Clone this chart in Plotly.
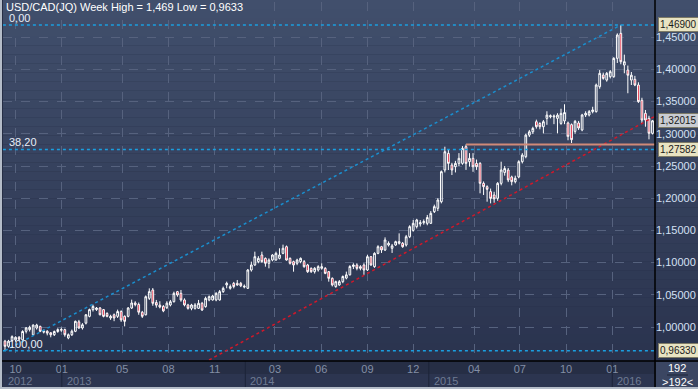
import plotly.graph_objects as go
import pandas as pd

# ---------------- data (weekly USD/CAD candles) ----------------
week_start = "2012-09-03"
n_weeks = 186
dates = pd.date_range(week_start, periods=n_weeks, freq="7D")

opens = [
    0.9785, 0.9780, 0.9700, 0.9790, 0.9800, 0.9840, 0.9800, 0.9933, 0.9960, 0.9880,
    0.9985, 1.0010, 0.9920, 0.9935, 0.9910, 0.9880, 0.9930, 0.9950, 0.9960, 0.9830,
    0.9880, 0.9933, 1.0080, 0.9985, 1.0060, 1.0165, 1.0270, 1.0270, 1.0295, 1.0270,
    1.0210, 1.0140, 1.0190, 1.0165, 1.0240, 1.0166, 1.0166, 1.0295, 1.0373, 1.0350,
    1.0230, 1.0190, 1.0445, 1.0575, 1.0380, 1.0340, 1.0320, 1.0300, 1.0342, 1.0393,
    1.0549, 1.0523, 1.0420, 1.0342, 1.0290, 1.0290, 1.0290, 1.0368, 1.0316, 1.0420,
    1.0420, 1.0420, 1.0420, 1.0549, 1.0653, 1.0601, 1.0678, 1.0678, 1.0678, 1.0620,
    1.0601, 1.0885, 1.0963, 1.1015, 1.1118, 1.1066, 1.0989, 1.1040, 1.1040, 1.1066,
    1.1144, 1.1247, 1.1066, 1.1015, 1.0989, 1.1015, 1.1015, 1.0963, 1.0911, 1.0859,
    1.0885, 1.0911, 1.0911, 1.0859, 1.0756, 1.0627, 1.0653, 1.0704, 1.0760, 1.0810,
    1.0940, 1.0963, 1.0937, 1.0963, 1.0885, 1.1092, 1.0937, 1.1144, 1.1247, 1.1196,
    1.1273, 1.1222, 1.1273, 1.1300, 1.1300, 1.1273, 1.1402, 1.1500, 1.1558, 1.1600,
    1.1620, 1.1610, 1.1610, 1.1791, 1.1843, 1.1946, 1.2438, 1.2696, 1.2515, 1.2489,
    1.2541, 1.2541, 1.2800, 1.2567, 1.2619, 1.2541, 1.2541, 1.2231, 1.2179, 1.2102,
    1.2050, 1.1998, 1.2231, 1.2400, 1.2438, 1.2330, 1.2257, 1.2330, 1.2567, 1.2645,
    1.2980, 1.3032, 1.3188, 1.3160, 1.3110, 1.3240, 1.3265, 1.3262, 1.3240, 1.3162,
    1.3200, 1.3168, 1.3142, 1.3038, 1.3168, 1.3060, 1.3292, 1.3292, 1.3344, 1.3344,
    1.3732, 1.3913, 1.3835, 1.3887, 1.3887, 1.4172, 1.4560, 1.4068, 1.3990, 1.3835,
    1.3846, 1.3758, 1.3520, 1.3318, 1.3240, 1.3008,
]
highs = [
    0.9860, 0.9800, 0.9800, 0.9870, 0.9855, 0.9860, 0.9950, 1.0000, 1.0020, 1.0040,
    1.0050, 1.0020, 0.9960, 0.9950, 0.9920, 0.9945, 0.9980, 0.9990, 0.9975, 0.9900,
    0.9960, 1.0100, 1.0110, 1.0060, 1.0200, 1.0285, 1.0347, 1.0310, 1.0310, 1.0280,
    1.0230, 1.0190, 1.0210, 1.0270, 1.0260, 1.0180, 1.0310, 1.0425, 1.0400, 1.0380,
    1.0250, 1.0490, 1.0600, 1.0605, 1.0420, 1.0400, 1.0340, 1.0400, 1.0420, 1.0549,
    1.0560, 1.0575, 1.0445, 1.0360, 1.0360, 1.0370, 1.0420, 1.0390, 1.0471, 1.0490,
    1.0500, 1.0540, 1.0575, 1.0627, 1.0704, 1.0660, 1.0700, 1.0730, 1.0700, 1.0660,
    1.0900, 1.1015, 1.1170, 1.1100, 1.1170, 1.1080, 1.1066, 1.1130, 1.1170, 1.1222,
    1.1279, 1.1265, 1.1080, 1.1030, 1.1060, 1.1080, 1.1040, 1.0980, 1.0925, 1.0930,
    1.0960, 1.0989, 1.0930, 1.0870, 1.0770, 1.0720, 1.0730, 1.0800, 1.0860, 1.0960,
    1.0990, 1.0990, 1.0960, 1.0990, 1.1120, 1.1100, 1.1160, 1.1270, 1.1260, 1.1392,
    1.1330, 1.1290, 1.1340, 1.1454, 1.1320, 1.1430, 1.1580, 1.1662, 1.1680, 1.1660,
    1.1670, 1.1740, 1.1800, 1.1900, 1.2000, 1.2430, 1.2800, 1.2750, 1.2550, 1.2580,
    1.2700, 1.2810, 1.2835, 1.2700, 1.2700, 1.2600, 1.2560, 1.2260, 1.2200, 1.2150,
    1.2100, 1.2250, 1.2567, 1.2500, 1.2470, 1.2350, 1.2350, 1.2590, 1.2700, 1.3000,
    1.3060, 1.3110, 1.3220, 1.3180, 1.3214, 1.3350, 1.3300, 1.3300, 1.3320, 1.3390,
    1.3459, 1.3190, 1.3160, 1.3215, 1.3200, 1.3310, 1.3350, 1.3370, 1.3420, 1.3780,
    1.3990, 1.3950, 1.3960, 1.3990, 1.4190, 1.4560, 1.4690, 1.4230, 1.4060, 1.3960,
    1.3900, 1.3800, 1.3560, 1.3370, 1.3280, 1.3215,
]
lows = [
    0.9775, 0.9633, 0.9680, 0.9770, 0.9770, 0.9780, 0.9780, 0.9900, 0.9930, 0.9870,
    0.9960, 0.9920, 0.9900, 0.9870, 0.9840, 0.9860, 0.9910, 0.9925, 0.9850, 0.9810,
    0.9860, 0.9920, 0.9970, 0.9960, 1.0040, 1.0150, 1.0240, 1.0250, 1.0180, 1.0150,
    1.0150, 1.0110, 1.0090, 1.0140, 1.0080, 1.0010, 1.0150, 1.0280, 1.0320, 1.0190,
    1.0140, 1.0180, 1.0420, 1.0330, 1.0300, 1.0290, 1.0230, 1.0280, 1.0320, 1.0380,
    1.0470, 1.0393, 1.0320, 1.0270, 1.0260, 1.0270, 1.0280, 1.0250, 1.0300, 1.0400,
    1.0410, 1.0400, 1.0410, 1.0530, 1.0601, 1.0580, 1.0600, 1.0640, 1.0620, 1.0600,
    1.0590, 1.0860, 1.0950, 1.0990, 1.1000, 1.0937, 1.0911, 1.1020, 1.1030, 1.1050,
    1.1130, 1.1030, 1.0970, 1.0859, 1.0960, 1.0990, 1.0920, 1.0840, 1.0840, 1.0830,
    1.0860, 1.0890, 1.0820, 1.0704, 1.0630, 1.0610, 1.0640, 1.0680, 1.0740, 1.0800,
    1.0900, 1.0880, 1.0880, 1.0810, 1.0870, 1.0950, 1.0920, 1.1130, 1.1150, 1.1180,
    1.1250, 1.1150, 1.1260, 1.1280, 1.1230, 1.1250, 1.1380, 1.1480, 1.1530, 1.1560,
    1.1590, 1.1580, 1.1600, 1.1770, 1.1800, 1.1920, 1.2400, 1.2438, 1.2360, 1.2400,
    1.2500, 1.2520, 1.2440, 1.2490, 1.2410, 1.2440, 1.2076, 1.2050, 1.1946, 1.1920,
    1.1930, 1.1960, 1.2200, 1.2350, 1.2250, 1.2200, 1.2230, 1.2310, 1.2540, 1.2620,
    1.2950, 1.3000, 1.3080, 1.3070, 1.3007, 1.3140, 1.3240, 1.3150, 1.3007, 1.3140,
    1.3150, 1.2900, 1.2857, 1.3000, 1.3060, 1.3040, 1.3260, 1.3270, 1.3318, 1.3330,
    1.3700, 1.3840, 1.3810, 1.3860, 1.3870, 1.4100, 1.4080, 1.3940, 1.3630, 1.3758,
    1.3740, 1.3480, 1.3163, 1.3110, 1.2914, 1.2990,
]
closes = [
    0.9850, 0.9700, 0.9780, 0.9850, 0.9840, 0.9810, 0.9930, 0.9985, 0.9995, 1.0030,
    1.0030, 0.9933, 0.9935, 0.9905, 0.9880, 0.9930, 0.9960, 0.9960, 0.9880, 0.9880,
    0.9935, 1.0088, 0.9985, 1.0035, 1.0190, 1.0270, 1.0320, 1.0295, 1.0190, 1.0165,
    1.0165, 1.0165, 1.0140, 1.0240, 1.0110, 1.0088, 1.0295, 1.0373, 1.0347, 1.0230,
    1.0166, 1.0470, 1.0549, 1.0368, 1.0340, 1.0310, 1.0250, 1.0370, 1.0393, 1.0523,
    1.0497, 1.0420, 1.0342, 1.0290, 1.0342, 1.0342, 1.0368, 1.0264, 1.0445, 1.0471,
    1.0481, 1.0523, 1.0549, 1.0601, 1.0678, 1.0627, 1.0627, 1.0653, 1.0640, 1.0632,
    1.0885, 1.0963, 1.1092, 1.1066, 1.1015, 1.0989, 1.1040, 1.1118, 1.1144, 1.1118,
    1.1222, 1.1040, 1.0989, 1.0963, 1.1040, 1.1066, 1.0937, 1.0859, 1.0859, 1.0911,
    1.0937, 1.0937, 1.0833, 1.0756, 1.0653, 1.0704, 1.0704, 1.0784, 1.0810, 1.0940,
    1.0963, 1.0911, 1.0911, 1.0885, 1.1092, 1.0963, 1.1144, 1.1247, 1.1196, 1.1351,
    1.1300, 1.1260, 1.1325, 1.1325, 1.1247, 1.1402, 1.1558, 1.1610, 1.1662, 1.1620,
    1.1636, 1.1700, 1.1765, 1.1869, 1.1972, 1.2412, 1.2722, 1.2541, 1.2438, 1.2541,
    1.2619, 1.2774, 1.2541, 1.2619, 1.2489, 1.2489, 1.2231, 1.2179, 1.2138, 1.1998,
    1.1990, 1.2231, 1.2438, 1.2460, 1.2283, 1.2257, 1.2310, 1.2567, 1.2670, 1.2980,
    1.3032, 1.3084, 1.3110, 1.3110, 1.3188, 1.3290, 1.3280, 1.3275, 1.3290, 1.3317,
    1.3330, 1.2961, 1.2909, 1.3193, 1.3090, 1.3292, 1.3318, 1.3344, 1.3370, 1.3758,
    1.3939, 1.3861, 1.3939, 1.3965, 1.4172, 1.4534, 1.4120, 1.4120, 1.3910, 1.3910,
    1.3758, 1.3500, 1.3214, 1.3214, 1.3008, 1.3202,
]
assert len(opens) == len(highs) == len(lows) == len(closes) == n_weeks

# Fibonacci retracement between the period low and high
fib_high = 1.469
fib_low = 0.9633
fib_levels = [0.0, 38.2, 100.0]
fib_labels = ["0,00", "38,20", "100,00"]
fib_low_idx = 1      # week of the low
fib_high_idx = 176   # week of the high

# red trend line (two anchor points) and horizontal resistance line
trend_dates = ["2013-09-30", "2016-04-04"]
trend_prices = [0.9398, 1.3311]
resist_idx = 132
resist_price = 1.2835
resist_end = "2016-04-04"

# axis ticks
y_ticks = [1.00, 1.05, 1.10, 1.15, 1.20, 1.25, 1.30, 1.35, 1.40, 1.45]
month_tick_dates = ["2012-10-01", "2013-01-01", "2013-05-01", "2013-08-01", "2013-11-01",
                    "2014-03-01", "2014-06-01", "2014-09-01", "2014-12-01", "2015-04-01",
                    "2015-07-01", "2015-10-01", "2016-01-01"]
month_tick_text = ["10", "01", "05", "08", "11", "03", "06", "09", "12", "04", "07", "10", "01"]
year_starts = ["2012-09-06", "2013-01-01", "2014-01-01", "2015-01-01", "2016-01-01"]
year_labels = ["2012", "2013", "2014", "2015", "2016"]

last_price = 1.32015
title_text = "USD/CAD(JQ) Week High = 1,469 Low = 0,9633"
bar_count_text = "192"

# ---------------- layout geometry ----------------
W, H = 698, 389
ML, MR, MT, MB = 3, 43, 2, 28
PW, PH = W - ML - MR, H - MT - MB
def px(x):  # pixel x -> paper x
    return (x - ML) / PW
def py(y):  # pixel y -> paper y
    return (H - MB - y) / PH

FONT = "Liberation Sans"
fig = go.Figure()

def fmt(v):
    return f"{v:.5f}".replace(".", ",")

# fib horizontal lines
x_lo, x_hi = "2012-08-01", "2016-05-01"
for lvl in fib_levels:
    p = fib_high - lvl / 100.0 * (fib_high - fib_low)
    fig.add_trace(go.Scatter(x=[x_lo, x_hi], y=[p, p], mode="lines",
                             line=dict(color="#1a9fe0", width=1.5, dash="dot"),
                             hoverinfo="skip", showlegend=False))
# fib diagonal
fig.add_trace(go.Scatter(x=[dates[fib_low_idx], dates[fib_high_idx]], y=[fib_low, fib_high],
                         mode="lines", line=dict(color="#1a8fcf", width=1.5, dash="dot"),
                         hoverinfo="skip", showlegend=False))
# red trend line
fig.add_trace(go.Scatter(x=trend_dates, y=trend_prices, mode="lines",
                         line=dict(color="#d0182a", width=1.5, dash="dot"),
                         hoverinfo="skip", showlegend=False))
# resistance line
fig.add_trace(go.Scatter(x=[dates[resist_idx], resist_end], y=[resist_price, resist_price],
                         mode="lines", line=dict(color="#d08a78", width=2),
                         hoverinfo="skip", showlegend=False))

fig.add_trace(go.Candlestick(
    x=dates, open=opens, high=highs, low=lows, close=closes,
    increasing=dict(line=dict(color="#ffffff", width=1), fillcolor="rgba(0,0,0,0)"),
    decreasing=dict(line=dict(color="#ffffff", width=1), fillcolor="#e0102c"),
    whiskerwidth=0, showlegend=False, hoverinfo="skip"))

shapes = []
# gradient background (plot + right axis area)
top_rgb = (0x41, 0x4f, 0x6c)
bot_rgb = (0x2a, 0x33, 0x4e)
nb = 40
for k in range(nb):
    y0 = (H - MB) * k / nb
    y1 = (H - MB) * (k + 1) / nb
    t = (k + 0.5) / nb
    c = tuple(int(round(top_rgb[j] + (bot_rgb[j] - top_rgb[j]) * t)) for j in range(3))
    shapes.append(dict(type="rect", xref="paper", yref="paper", x0=px(ML), x1=px(W),
                       y0=py(y1), y1=py(y0), fillcolor="rgb(%d,%d,%d)" % c,
                       line=dict(width=0), layer="below"))
# year band row
shapes.append(dict(type="rect", xref="paper", yref="paper", x0=px(ML), x1=px(W - MR),
                   y0=py(387), y1=py(374), fillcolor="#2c3550", line=dict(width=0), layer="below"))
for d in year_starts[1:]:
    shapes.append(dict(type="line", xref="x", yref="paper", x0=d, x1=d, y0=py(387), y1=py(361),
                       line=dict(color="#1c2338", width=1)))
# axis separators
shapes.append(dict(type="line", xref="paper", yref="paper", x0=px(0), x1=px(W), y0=0, y1=0,
                   line=dict(color="#000000", width=1.5)))
shapes.append(dict(type="line", xref="paper", yref="paper", x0=1, x1=1, y0=py(H), y1=py(0),
                   line=dict(color="#000000", width=1.5)))
# bottom right box
shapes.append(dict(type="rect", xref="paper", yref="paper", x0=px(656), x1=px(W),
                   y0=py(387), y1=py(362), fillcolor="#3b4662", line=dict(width=0)))
shapes.append(dict(type="line", xref="paper", yref="paper", x0=px(667), x1=px(688),
                   y0=py(375), y1=py(375), line=dict(color="#1e2538", width=1)))
# outer frame (left and bottom)
shapes.append(dict(type="rect", xref="paper", yref="paper", x0=px(0), x1=px(2),
                   y0=py(H), y1=py(0), fillcolor="#b4bcc8", line=dict(width=0)))
shapes.append(dict(type="rect", xref="paper", yref="paper", x0=px(0), x1=px(W),
                   y0=py(H), y1=py(387), fillcolor="#b4bcc8", line=dict(width=0)))

annotations = []
annotations.append(dict(text=title_text, xref="paper", yref="paper", x=px(4), y=py(7),
                        xanchor="left", yanchor="middle", showarrow=False,
                        font=dict(family=FONT, size=11, color="#ffffff")))
for lvl, lab in zip(fib_levels, fib_labels):
    p = fib_high - lvl / 100.0 * (fib_high - fib_low)
    annotations.append(dict(text=lab, xref="paper", yref="y", x=px(7), y=p,
                            xanchor="left", yanchor="bottom", yshift=-1, showarrow=False,
                            font=dict(family=FONT, size=11, color="#e8eef8")))
# price tags
tags = [(fib_high, "#e8e3c2"), (last_price, "#c9ccd2"),
        (fib_high - 0.382 * (fib_high - fib_low), "#e8e3c2"), (fib_low, "#e8e3c2")]
for p, col in tags:
    annotations.append(dict(text=fmt(p), xref="paper", yref="y", x=1, y=p,
                            xanchor="left", yanchor="middle", xshift=3, showarrow=False,
                            bgcolor=col, bordercolor="#7d7a66", borderwidth=1, borderpad=1,
                            font=dict(family=FONT, size=10, color="#1a1a1a")))
for d, lab in zip(year_starts, year_labels):
    annotations.append(dict(text=lab, xref="x", yref="paper", x=d, y=py(381),
                            xanchor="left", yanchor="middle", xshift=3, showarrow=False,
                            font=dict(family=FONT, size=11, color="#6f7b93")))
annotations.append(dict(text=bar_count_text, xref="paper", yref="paper", x=px(677), y=py(368),
                        xanchor="center", yanchor="middle", showarrow=False,
                        font=dict(family=FONT, size=11, color="#ffffff")))
annotations.append(dict(text=">" + bar_count_text + "<", xref="paper", yref="paper", x=px(677),
                        y=py(382), xanchor="center", yanchor="middle", showarrow=False,
                        font=dict(family=FONT, size=11, color="#ffffff")))

fig.update_layout(
    width=W, height=H, margin=dict(l=ML, r=MR, t=MT, b=MB, pad=0),
    paper_bgcolor="#262e45", plot_bgcolor="rgba(0,0,0,0)",
    separators=",.", showlegend=False, hovermode=False,
    shapes=shapes, annotations=annotations,
    xaxis=dict(type="date", range=["2012-09-06", "2016-03-26"], rangeslider=dict(visible=False),
               tickvals=month_tick_dates, ticktext=month_tick_text, ticks="",
               showgrid=True, gridcolor="#56627e", griddash="dash", gridwidth=1,
               zeroline=False, showline=False,
               tickfont=dict(family=FONT, size=11, color="#838ea6"), fixedrange=True),
    yaxis=dict(range=[0.9472, 1.5047], side="right", tickvals=y_ticks, tickformat=".5f",
               ticks="", showgrid=True, gridcolor="#56627e", griddash="dash", gridwidth=1,
               zeroline=False, showline=False,
               tickfont=dict(family=FONT, size=11, color="#d4e0f4"), fixedrange=True),
)

fig.write_html("out.html", config={"displayModeBar": False},
               post_script="document.body.style.margin='0';document.body.style.padding='0';"
                           "document.body.style.overflow='hidden';")
